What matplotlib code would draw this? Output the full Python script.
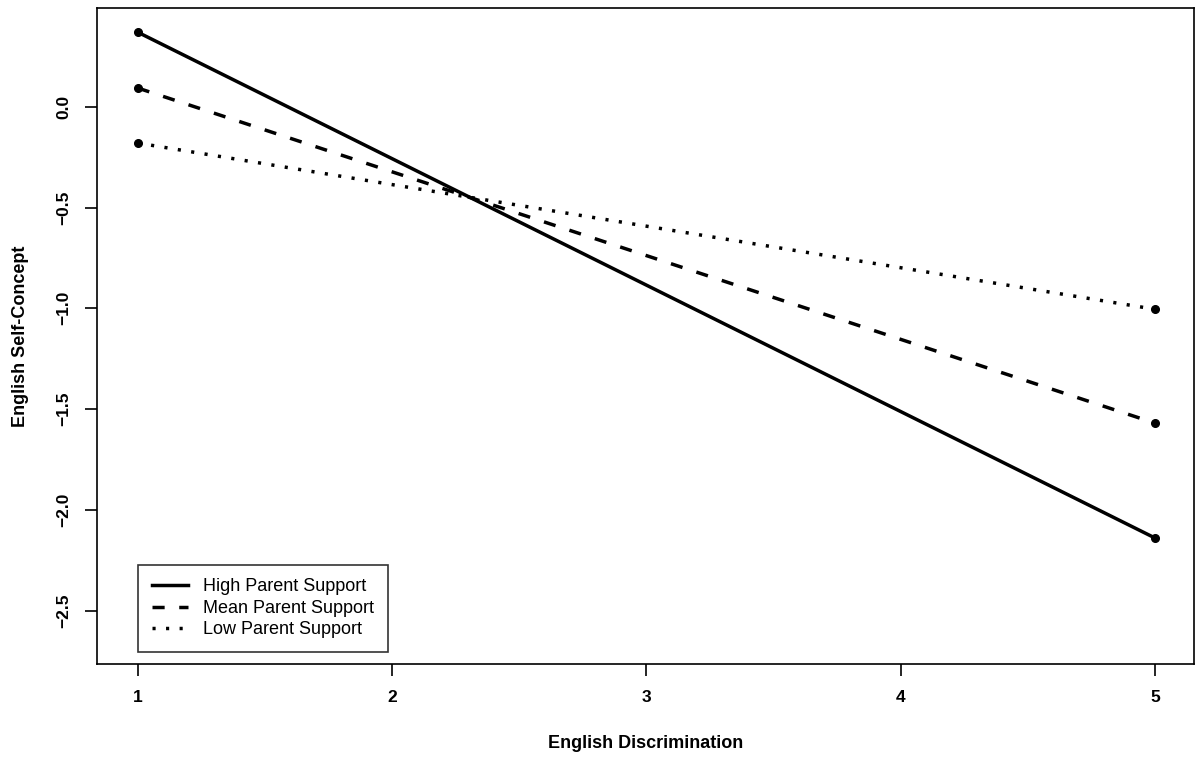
import matplotlib
matplotlib.use("Agg")
import matplotlib.pyplot as plt
from matplotlib.lines import Line2D

x_vals = [1, 5]
high_support = [0.37, -2.14]
mean_support = [0.093, -1.57]
low_support = [-0.18, -1.005]
series_labels = ["High Parent Support", "Mean Parent Support", "Low Parent Support"]
x_ticks = [1, 2, 3, 4, 5]
y_ticks = [0.0, -0.5, -1.0, -1.5, -2.0, -2.5]
y_tick_labels = ["0.0", "\u22120.5", "\u22121.0", "\u22121.5", "\u22122.0", "\u22122.5"]

plt.rcParams['font.family'] = ['Liberation Sans', 'DejaVu Sans']

fig = plt.figure(figsize=(12, 7.57), dpi=100)
ax = fig.add_axes([97/1200, 1 - 664/757, (1194-97)/1200, (664-8)/757])

lw = 2.5
dash = (0, (3.5, 4.2))
dot = (0, (0.9, 3.0))
ax.plot(x_vals, high_support, color='black', lw=lw, linestyle='-', marker='o', ms=5.5, solid_capstyle='butt')
ax.plot(x_vals, mean_support, color='black', lw=lw, linestyle=dash, marker='o', ms=5.5, dash_capstyle='butt')
ax.plot(x_vals, low_support, color='black', lw=lw, linestyle=dot, marker='o', ms=5.5, dash_capstyle='butt')

ax.set_xlim(0.84, 5.153)
ax.set_ylim(-2.765, 0.49)

ax.set_xticks(x_ticks)
ax.set_xticklabels([str(v) for v in x_ticks], fontweight='bold', fontsize=12.5)
ax.set_yticks(y_ticks)
ax.set_yticklabels(y_tick_labels, fontweight='bold', fontsize=12.5, rotation=90, va='center')
ax.tick_params(direction='out', length=8.5, width=1.2, pad=10)
for s in ax.spines.values():
    s.set_linewidth(1.2)

ax.set_xlabel("English Discrimination", fontweight='bold', fontsize=13, labelpad=22)
ax.set_ylabel("English Self-Concept", fontweight='bold', fontsize=13, labelpad=20)

handles = [
    Line2D([], [], color='black', lw=lw, linestyle='-'),
    Line2D([], [], color='black', lw=lw, linestyle=dash),
    Line2D([], [], color='black', lw=lw, linestyle=dot),
]
leg = ax.legend(handles, series_labels, loc='lower left', bbox_to_anchor=(41/1097, 12/656),
                fontsize=13, frameon=True, fancybox=False, edgecolor='black',
                handlelength=2.0, handletextpad=0.85, labelspacing=0.25, borderpad=0.75,
                borderaxespad=0)
leg.get_frame().set_linewidth(1.2)

fig.savefig("out.png", dpi=100)
